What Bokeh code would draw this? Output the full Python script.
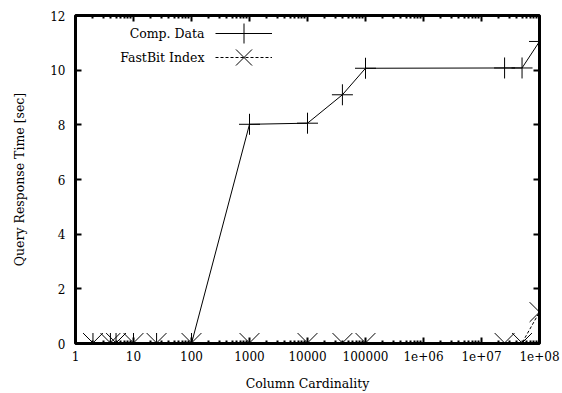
from bokeh.plotting import figure
from bokeh.models import (FixedTicker, LinearAxis, LogAxis, CustomJSTickFormatter,
                          Legend, LegendItem, Label)
from bokeh.embed import file_html
from bokeh.resources import INLINE

# ---- data ----
cardinality = [2, 4, 5, 10, 25, 100, 1000, 10000, 40000, 100000, 2.5e7, 5e7, 1e8]
comp_data = [0, 0, 0, 0, 0, 0, 8.02, 8.06, 9.1, 10.07, 10.08, 10.08, 11.05]
fastbit_index = [0.02, 0.02, 0.02, 0.02, 0.02, 0.02, 0.02, 0.02, 0.02, 0.02, 0.02, 0.02, 1.15]
series_names = ["Comp. Data", "FastBit Index"]
x_ticks = [1, 10, 100, 1000, 10000, 100000, 1e6, 1e7, 1e8]
x_tick_labels = ["1", "10", "100", "1000", "10000", "100000", "1e+06", "1e+07", "1e+08"]
y_ticks = [0, 2, 4, 6, 8, 10, 12]

FONT = "DejaVu Serif"
FS_TICK = "12px"
FS_LAB = "12.5px"

p = figure(width=562, height=393, x_axis_type="log", x_range=(1, 1e8), y_range=(0, 12),
           output_backend="svg", toolbar_location=None,
           min_border_left=75, min_border_right=23, min_border_top=15, min_border_bottom=50,
           x_axis_label="Column Cardinality", y_axis_label="Query Response Time [sec]")
p.grid.visible = False
p.outline_line_color = "black"
p.outline_line_width = 3
p.background_fill_color = "white"
p.border_fill_color = "white"

minor = [m * t for t in x_ticks[:-1] for m in range(2, 10)]
xt = FixedTicker(ticks=x_ticks, minor_ticks=minor)
yt = FixedTicker(ticks=y_ticks)

overrides = {float(t): l for t, l in zip(x_ticks, x_tick_labels)}

xa = p.xaxis[0]
xa.ticker = xt
xa.major_label_overrides = overrides
ya = p.yaxis[0]
ya.ticker = yt

blank = CustomJSTickFormatter(code="return ''")
top = LogAxis(ticker=xt, formatter=blank)
right = LinearAxis(ticker=yt, formatter=blank)
p.add_layout(top, "above")
p.add_layout(right, "right")

for ax in [xa, ya, top, right]:
    ax.axis_line_color = None
    ax.major_tick_in = 6
    ax.major_tick_out = 0
    ax.major_tick_line_width = 2
    ax.major_tick_line_color = "black"
    ax.minor_tick_in = 3
    ax.minor_tick_out = 0
    ax.minor_tick_line_width = 2
    ax.minor_tick_line_color = "black"
    ax.major_label_text_font = FONT
    ax.major_label_text_font_size = FS_TICK
    ax.major_label_text_color = "black"
    ax.axis_label_text_font = FONT
    ax.axis_label_text_font_size = FS_LAB
    ax.axis_label_text_font_style = "normal"
    ax.axis_label_text_color = "black"
for ax in [ya, right]:
    ax.minor_tick_line_color = None

xa.major_label_standoff = 7
xa.axis_label_standoff = 12
ya.major_label_standoff = 10
ya.axis_label_standoff = 20

l1 = p.line(cardinality, comp_data, line_color="black", line_width=1)
m1 = p.scatter(cardinality, comp_data, marker="cross", size=21, line_color="black", line_width=1)
l2 = p.line(cardinality, fastbit_index, line_color="black", line_width=1, line_dash="3 2")
m2 = p.scatter(cardinality, fastbit_index, marker="x", size=28, line_color="black", line_width=1)

for rs, loc, gh in [([l1, m1], (140, 285), 50), ([l2, m2], (140, 256), 60)]:
    lg = Legend(items=[LegendItem(label=" ", renderers=rs)],
                location=loc, glyph_width=57, glyph_height=gh,
                padding=0, margin=0, label_standoff=0, label_width=0, label_height=0,
                label_text_font_size="1px", label_text_alpha=0,
                border_line_color=None, background_fill_alpha=0)
    p.add_layout(lg, "center")

for i, name in enumerate(series_names):
    p.add_layout(Label(x=129, y=310 - 24 * i, x_units="screen", y_units="screen", text=name,
                       text_align="right", text_baseline="middle",
                       text_font=FONT, text_font_size=FS_LAB, text_color="black"))

open("out.html", "w").write(file_html(p, INLINE))
